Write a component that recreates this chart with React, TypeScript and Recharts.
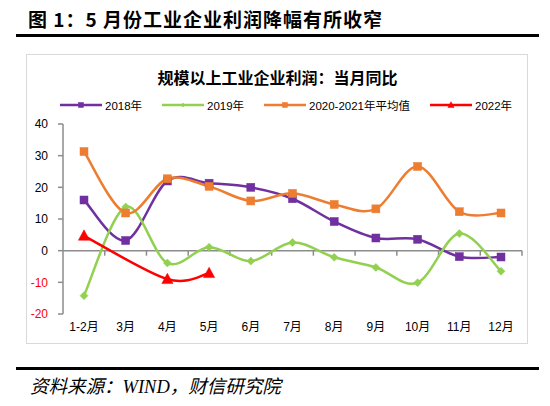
import React from 'react';
import { LineChart, Line, XAxis, YAxis, ReferenceLine } from 'recharts';

const months = ['1-2月', '3月', '4月', '5月', '6月', '7月', '8月', '9月', '10月', '11月', '12月'];
const s2018 = [16, 3.2, 22, 21.3, 20, 16.4, 9.2, 4.0, 3.6, -1.9, -2.0];
const s2019 = [-14.2, 13.8, -3.9, 1.1, -3.3, 2.6, -2.1, -5.3, -10.1, 5.4, -6.5];
const s2020_21 = [31.3, 11.9, 22.7, 20.3, 15.7, 18.1, 14.6, 13.2, 26.6, 12.3, 11.9];
const s2022: (number | null)[] = [4.7, null, -9.0, -7.1, null, null, null, null, null, null, null];
const yTicks = [-20, -10, 0, 10, 20, 30, 40];

const seriesNames = ['2018年', '2019年', '2020-2021年平均值', '2022年'];
const seriesColors = ['#7030A0', '#92D050', '#ED7D31', '#FF0000'];
const seriesKeys = ['a', 'b', 'c', 'd'];
const seriesMarkers = ['square', 'diamond', 'square', 'triangle'];

const data = months.map((m, i) => ({
  month: m,
  a: s2018[i],
  b: s2019[i],
  c: s2020_21[i],
  d: s2022[i],
}));

// Excel-like smoothed curve (cardinal / Catmull-Rom)
function smoothCurve(context: any) {
  let pts: number[][] = [];
  return {
    areaStart() {},
    areaEnd() {},
    lineStart() {
      pts = [];
    },
    lineEnd() {
      const n = pts.length;
      if (n === 0) return;
      context.moveTo(pts[0][0], pts[0][1]);
      if (n === 1) return;
      const k = 1 / 6;
      for (let i = 0; i < n - 1; i++) {
        const p0 = pts[Math.max(i - 1, 0)];
        const p1 = pts[i];
        const p2 = pts[i + 1];
        const p3 = pts[Math.min(i + 2, n - 1)];
        context.bezierCurveTo(
          p1[0] + k * (p2[0] - p0[0]),
          p1[1] + k * (p2[1] - p0[1]),
          p2[0] - k * (p3[0] - p1[0]),
          p2[1] - k * (p3[1] - p1[1]),
          p2[0],
          p2[1]
        );
      }
    },
    point(x: number, y: number) {
      pts.push([+x, +y]);
    },
  };
}

function markerShape(kind: string, cx: number, cy: number, color: string, s: number, key?: any) {
  if (kind === 'square') {
    return <rect key={key} x={cx - s / 2} y={cy - s / 2} width={s} height={s} fill={color} stroke={color} strokeWidth={0.5} />;
  }
  if (kind === 'diamond') {
    const h = s / 2 + 0.5;
    return (
      <polygon key={key} points={`${cx},${cy - h} ${cx + h},${cy} ${cx},${cy + h} ${cx - h},${cy}`} fill={color} stroke={color} strokeWidth={0.5} />
    );
  }
  const w = s * 1.25;
  const ht = s * 1.1;
  return (
    <polygon key={key} points={`${cx},${cy - ht * 0.6} ${cx + w / 2},${cy + ht * 0.45} ${cx - w / 2},${cy + ht * 0.45}`} fill={color} stroke={color} strokeWidth={0.5} />
  );
}

const makeDot = (kind: string, color: string, s: number) => (props: any) => {
  const { cx, cy, value, index } = props;
  if (value === null || value === undefined || cy === null || cy === undefined || isNaN(cy)) {
    return <g key={`e-${index}`} />;
  }
  return markerShape(kind, cx, cy, color, s, `m-${index}`);
};

const YTick = (props: any) => {
  const { x, y, payload } = props;
  const v = payload.value;
  return (
    <text x={x} y={y} dy="0.35em" textAnchor="end" fontSize={12} fill={v < 0 ? '#FF0000' : '#000'} fontFamily="'Liberation Sans', 'Noto Sans CJK SC', sans-serif">
      {v}
    </text>
  );
};

const ZeroLine = (props: any) => {
  const { x1, x2, y1 } = props;
  if (x1 === undefined || y1 === undefined) return null;
  const n = months.length;
  const step = (x2 - x1) / n;
  const ticks = [];
  for (let k = 1; k <= n; k++) {
    const x = x1 + k * step;
    ticks.push(<line key={k} x1={x} x2={x} y1={y1} y2={y1 + 5} stroke="#8c8c8c" strokeWidth={1.5} />);
  }
  return (
    <g>
      <line x1={x1} x2={x2} y1={y1} y2={y1} stroke="#8c8c8c" strokeWidth={1.5} />
      {ticks}
    </g>
  );
};

const legendLefts = [60, 162, 264, 430];

export default function App() {
  return (
    <div style={{ position: 'relative', width: 550, height: 406, background: '#fff', overflow: 'hidden' }}>
      <style>{`body{margin:0;}`}</style>
      <div
        style={{
          position: 'absolute',
          left: 28,
          top: 7,
          fontSize: 19,
          fontWeight: 700,
          letterSpacing: 1,
          fontFamily: "'Noto Sans CJK SC', sans-serif",
          lineHeight: '24px',
          color: '#000',
          whiteSpace: 'nowrap',
        }}
      >
        图 1：5 月份工业企业利润降幅有所收窄
      </div>
      <div style={{ position: 'absolute', left: 16, top: 34, width: 523, height: 3, background: '#000' }} />
      <div
        style={{
          position: 'absolute',
          left: 26,
          top: 54,
          width: 500,
          height: 288,
          border: '1.5px solid #d9d9d9',
        }}
      />
      <div
        style={{
          position: 'absolute',
          left: 26,
          width: 503,
          top: 66,
          textAlign: 'center',
          fontSize: 16,
          fontWeight: 700,
          fontFamily: "'Noto Sans CJK SC', sans-serif",
          lineHeight: '22px',
          color: '#000',
        }}
      >
        规模以上工业企业利润：当月同比
      </div>
      {seriesNames.map((name, i) => (
        <div
          key={name}
          style={{
            position: 'absolute',
            left: legendLefts[i],
            top: 96,
            height: 18,
            display: 'flex',
            alignItems: 'center',
            whiteSpace: 'nowrap',
          }}
        >
          <svg width={44} height={18} style={{ display: 'block' }}>
            <line x1={0} x2={42} y1={9} y2={9} stroke={seriesColors[i]} strokeWidth={2.5} />
            {markerShape(seriesMarkers[i], 21, 9, seriesColors[i], seriesMarkers[i] === 'diamond' ? 3 : 5)}
          </svg>
          <span
            style={{
              fontSize: 11.5,
              fontFamily: "'Liberation Sans', 'Noto Sans CJK SC', sans-serif",
              color: '#000',
              marginLeft: 1,
            }}
          >
            {name}
          </span>
        </div>
      ))}
      <div
        style={{
          position: 'absolute',
          left: 16,
          top: 367,
          width: 523,
          height: 2.5,
          background: '#000',
        }}
      />
      <div
        style={{
          position: 'absolute',
          left: 30,
          top: 375,
          fontSize: 18.5,
          fontStyle: 'italic',
          fontFamily: "'Liberation Serif', 'Noto Sans CJK SC', serif",
          lineHeight: '24px',
          color: '#000',
          whiteSpace: 'nowrap',
        }}
      >
        资料来源：WIND，财信研究院
      </div>
      <div style={{ position: 'absolute', left: 0, top: 0 }}>
        <LineChart width={550} height={406} data={data} margin={{ top: 124, right: 28, bottom: 62, left: 0 }}>
          <XAxis
            dataKey="month"
            axisLine={false}
            tickLine={false}
            interval={0}
            height={30}
            padding={{ left: 21, right: 21 }}
            tick={{ fontSize: 12, fill: '#000', fontFamily: "'Liberation Sans', 'Noto Sans CJK SC', sans-serif" }}
          />
          <YAxis
            width={63}
            domain={[-20, 40]}
            ticks={yTicks}
            interval={0}
            axisLine={{ stroke: '#8c8c8c', strokeWidth: 1.5 }}
            tickLine={{ stroke: '#8c8c8c', strokeWidth: 1.5 }}
            tickSize={5}
            tickMargin={10}
            tick={<YTick />}
          />
          <ReferenceLine y={0} shape={<ZeroLine />} ifOverflow="visible" />
          {seriesKeys.map((k, i) => (
            <Line
              key={k}
              dataKey={k}
              name={seriesNames[i]}
              type={smoothCurve as any}
              stroke={seriesColors[i]}
              strokeWidth={2.5}
              connectNulls
              isAnimationActive={false}
              dot={makeDot(seriesMarkers[i], seriesColors[i], seriesMarkers[i] === 'diamond' ? 7 : seriesMarkers[i] === 'triangle' ? 9 : 8)}
              activeDot={false}
            />
          ))}
        </LineChart>
      </div>
    </div>
  );
}
